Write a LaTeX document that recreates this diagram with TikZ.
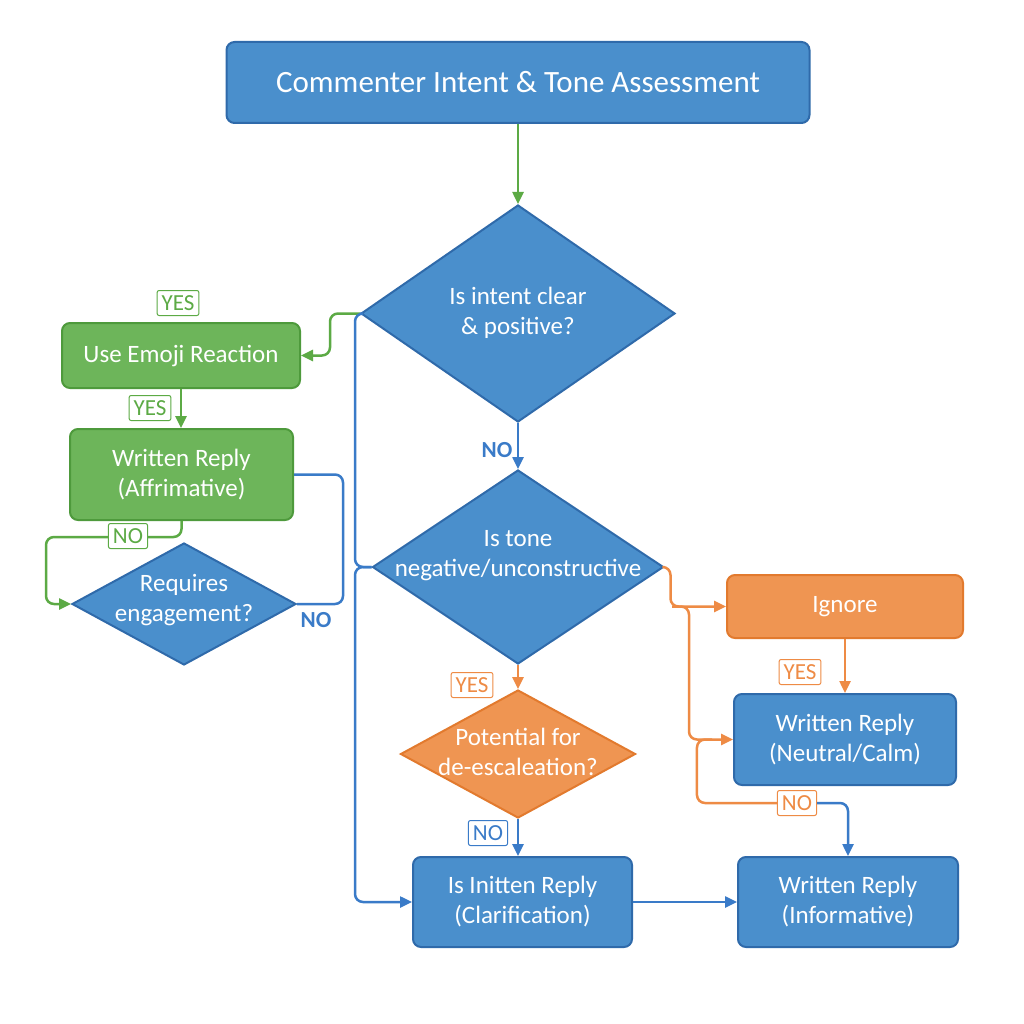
\documentclass[tikz,border=0pt]{standalone}
\usepackage{fontspec}
\setmainfont{Carlito}
\usetikzlibrary{shapes.geometric,arrows.meta,calc}

\definecolor{boxblue}{HTML}{4A8FCC}
\definecolor{edgeblue}{HTML}{2F6AAA}
\definecolor{boxgreen}{HTML}{6DB55A}
\definecolor{edgegreen}{HTML}{4E9A3C}
\definecolor{boxorange}{HTML}{EF9552}
\definecolor{edgeorange}{HTML}{E27A2E}
\definecolor{linegreen}{HTML}{5CAA45}
\definecolor{lineblue}{HTML}{3A7BC8}
\definecolor{lineorange}{HTML}{EE8B45}

\newcommand{\dtext}[2][0pt]{\raisebox{#1}[\height][\depth]{\makebox[0pt]{\begin{tabular}{@{}c@{}}#2\end{tabular}}}}

\begin{document}
\begin{tikzpicture}[x=1pt,y=-1pt,
    base/.style={draw, line width=2pt, rounded corners=8pt, text=white, align=center,
        font=\fontsize{25}{30}\selectfont, inner sep=0pt},
    bluebox/.style={base, fill=boxblue, draw=edgeblue},
    greenbox/.style={base, fill=boxgreen, draw=edgegreen},
    orangebox/.style={base, fill=boxorange, draw=edgeorange},
    decision/.style={diamond, draw=edgeblue, fill=boxblue, line width=2pt, text=white,
        font=\fontsize{25}{30}\selectfont, inner sep=0pt},
    tag/.style={draw, fill=white, line width=1pt, rounded corners=2pt,
        font=\fontsize{23}{23}\selectfont, inner xsep=4.5pt, inner ysep=2.5pt,
        minimum height=25pt},
    plain/.style={text=lineblue, font=\fontsize{23}{23}\selectfont\bfseries},
    link/.style={line width=2.5pt, rounded corners=8pt},
    flow/.style={link, -{Triangle[length=12pt,width=11pt]}}]

\useasboundingbox[fill=white] (0,0) rectangle (1024,1024);

\node (title) [bluebox, minimum width=583pt, minimum height=81pt,
    font=\fontsize{31}{36}\selectfont] at (518,82.5) {Commenter Intent \& Tone Assessment};

\node (intent) [decision, minimum width=314pt, minimum height=217pt] at (518,313.5)
    {\dtext{Is intent clear\\\& positive?}};
\node (tone) [decision, minimum width=291pt, minimum height=194pt] at (518,567)
    {\dtext[12pt]{Is tone\\negative/unconstructive}};
\node (calm) [decision, fill=boxorange, draw=edgeorange, minimum width=235pt,
    minimum height=128pt] at (518,754) {\dtext{Potential for\\de-escaleation?}};
\node (engage) [decision, minimum width=224pt, minimum height=122pt] at (184,604)
    {\dtext[4pt]{Requires\\engagement?}};

\node (emoji) [greenbox, minimum width=238pt, minimum height=65pt] at (181,355.5)
    {Use Emoji Reaction};
\node (affirm) [greenbox, minimum width=223pt, minimum height=91pt] at (181.5,474.5)
    {Written Reply\\(Affrimative)};
\node (ignore) [orangebox, minimum width=236pt, minimum height=63pt] at (845,606.5)
    {Ignore};
\node (neutral) [bluebox, minimum width=222pt, minimum height=91pt] at (845,739.5)
    {Written Reply\\(Neutral/Calm)};
\node (clarify) [bluebox, minimum width=219pt, minimum height=90pt] at (522.5,902)
    {Is Initten Reply\\(Clarification)};
\node (inform) [bluebox, minimum width=220pt, minimum height=90pt] at (848,902)
    {Written Reply\\(Informative)};

\coordinate (jo) at (672,606.5);
\coordinate (jn) at (712,739.5);

\draw[flow, linegreen] (title.south) -- (intent.north);
\draw[flow, linegreen] (intent.west) -- ++(-30,0) |- (emoji.east);
\draw[flow, linegreen] (emoji.south) -- (emoji.south |- affirm.north);
\draw[flow, linegreen] (affirm.south) -- ++(0,16) -| ($(engage.west)+(-25,0)$) -- (engage.west);
\draw[link, lineblue] (engage.east) -- ++(46,0) |- (affirm.east);
\draw[link, lineblue] (intent.west) -- ++(-5,0) |- (tone.west);
\draw[flow, lineblue] (tone.west) -- ++(-16.5,0) |- (clarify.west);
\draw[flow, lineblue] (intent.south) -- (tone.north);
\draw[flow, lineorange] (tone.south) -- (calm.north);
\draw[flow, lineblue] (calm.south) -- (calm.south |- clarify.north);
\draw[flow, lineblue] (clarify.east) -- (inform.west);
\draw[flow, lineorange] (tone.east) -- ++(6,0) |- (ignore.west);
\draw[flow, lineorange] (jo) -| ($(neutral.west)+(-44,0)$) -- (neutral.west);
\draw[flow, lineorange] (ignore.south) -- (ignore.south |- neutral.north);

\node (yesemoji) [tag, draw=linegreen, text=linegreen] at (178,303) {YES};
\node (yesaffirm) [tag, draw=linegreen, text=linegreen] at (150,408) {YES};
\node (noaffirm) [tag, draw=linegreen, text=linegreen] at (128,536) {NO};
\node (noengage) [plain] at (316,620) {NO};
\node (nointent) [plain] at (497,450) {NO};
\node (yestone) [tag, draw=lineorange, text=lineorange] at (472,685) {YES};
\node (nocalm) [tag, draw=lineblue, text=lineblue] at (488,833) {NO};
\node (yesignore) [tag, draw=lineorange, text=lineorange] at (800,672) {YES};
\node (noneutral) [tag, draw=lineorange, text=lineorange] at (797,803) {NO};

\draw[link, lineorange] (jn) -| ($(noneutral.west)+(-80,0)$) -- (noneutral.west);
\draw[flow, lineblue] (noneutral.east) -| (inform.north);

\end{tikzpicture}
\end{document}
